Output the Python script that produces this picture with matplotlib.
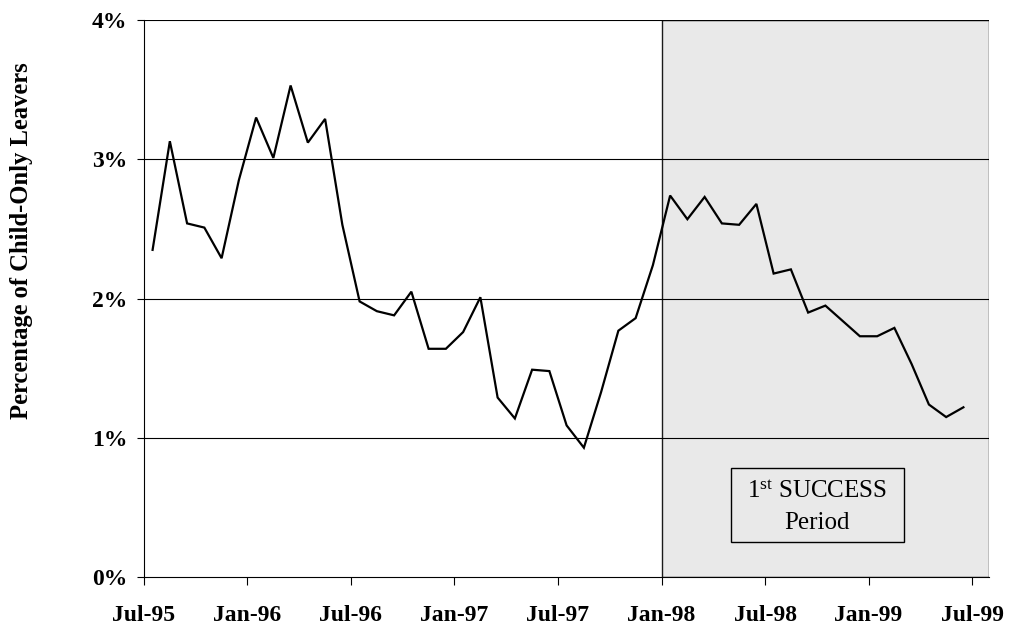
import matplotlib
matplotlib.use("Agg")
import matplotlib.pyplot as plt
import numpy as np
import pandas as pd
from matplotlib.patches import Rectangle

# Monthly share of child-only cases leaving assistance, Jul-95 .. Jun-99
months = pd.date_range("1995-07-01", periods=48, freq="MS").strftime("%b-%y").tolist()
leaver_pct = [
    2.35, 3.13, 2.54, 2.51, 2.29, 2.85, 3.30, 3.01, 3.53, 3.12, 3.29, 2.53,
    1.98, 1.91, 1.88, 2.05, 1.64, 1.64, 1.76, 2.01, 1.29, 1.14, 1.49, 1.48,
    1.09, 0.93, 1.33, 1.77, 1.86, 2.24, 2.74, 2.57, 2.73, 2.54, 2.53, 2.68,
    2.18, 2.21, 1.90, 1.95, 1.84, 1.73, 1.73, 1.79, 1.53, 1.24, 1.15, 1.22,
]
tick_labels = ["Jul-95", "Jan-96", "Jul-96", "Jan-97", "Jul-97",
               "Jan-98", "Jul-98", "Jan-99", "Jul-99"]
y_ticks = [0, 1, 2, 3, 4]
success_start = "Jan-98"

plt.rcParams["mathtext.fontset"] = "custom"
plt.rcParams["mathtext.rm"] = "Liberation Serif"
plt.rcParams["mathtext.it"] = "Liberation Serif:italic"
plt.rcParams["mathtext.bf"] = "Liberation Serif:bold"

serif = "Liberation Serif"
fig = plt.figure(figsize=(10.16, 6.27), dpi=100)
ax = fig.add_axes([0.1417, 0.0793, 0.8320, 0.8888])

n_slots = len(months) + 1
ax.set_xlim(0, n_slots)
ax.set_ylim(y_ticks[0], y_ticks[-1])

# shaded program period
start = months.index(success_start)
ax.add_patch(Rectangle((start, y_ticks[0]), n_slots - start, y_ticks[-1] - y_ticks[0],
                       facecolor="#E9E9E9", edgecolor="#1a1a1a", lw=1.0, zorder=0.5))

for y in y_ticks[1:]:
    ax.axhline(y, color="black", lw=0.8, zorder=1)

x = np.arange(len(months)) + 0.5
ax.plot(x, leaver_pct, color="black", lw=1.6, zorder=3, solid_joinstyle="miter")

for s in ["top", "right"]:
    ax.spines[s].set_visible(False)
for s in ["left", "bottom"]:
    ax.spines[s].set_color("black")
    ax.spines[s].set_linewidth(0.8)

ax.set_xticks([months.index(m) if m in months else len(months) for m in tick_labels])
ax.set_xticklabels(tick_labels, fontfamily=serif, fontweight="bold", fontsize=17)
ax.set_yticks(y_ticks)
ax.set_yticklabels([f"{v}%" for v in y_ticks], fontfamily=serif, fontweight="bold", fontsize=17)
ax.tick_params(axis="x", length=6, width=0.8, pad=14, direction="out")
ax.tick_params(axis="y", length=5, width=0.8, pad=7, direction="out")

fig.text(0.0215, 0.617, "Percentage of Child-Only Leavers", rotation=90,
         ha="center", va="center", fontfamily=serif, fontweight="bold", fontsize=17.7)

# label box for the program period
ax.add_patch(Rectangle((34.02, 0.256), 10.04, 0.526, facecolor="#E9E9E9",
                       edgecolor="black", lw=1.0, zorder=4))
ax.text(39.03, 0.567, r"1$^{\mathrm{st}}$ SUCCESS", ha="center", va="baseline",
        fontfamily=serif, fontsize=18, zorder=5)
ax.text(39.03, 0.347, "Period", ha="center", va="baseline",
        fontfamily=serif, fontsize=18, zorder=5)

fig.savefig("out.png", dpi=100)
